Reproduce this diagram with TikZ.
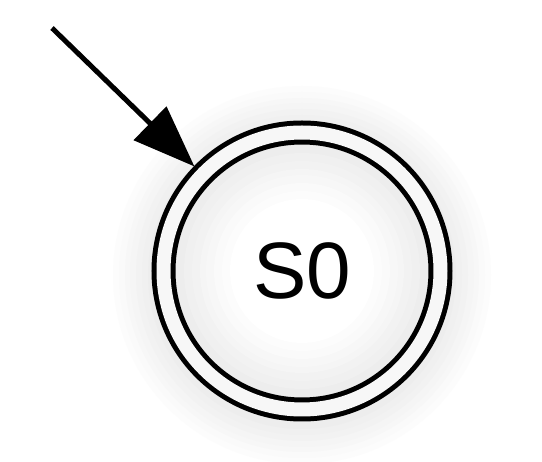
\documentclass[tikz,border=0pt]{standalone}
\usepackage{fontspec}
\setmainfont{Liberation Sans}
\usetikzlibrary{positioning,arrows.meta,backgrounds,calc}

\begin{document}
\begin{tikzpicture}[
  x=1pt, y=-1pt,
  state/.style    = {circle, draw, double=black!3, line width=5pt,
                     double distance=14pt, minimum size=277pt,
                     inner sep=0pt, outer sep=11.5pt,
                     font=\fontsize{80}{96}\selectfont},
  initarrow/.style= {-{Triangle[length=62pt, width=46pt]}, line width=5pt},
]
\useasboundingbox (0,0) rectangle (542,462);

% ===== State =====
\node[state] (s0) at (302,271) {S0};

% ===== Soft shadow round the state, inner shading =====
\begin{scope}[on background layer]
  \foreach \i in {0,...,40}
    \fill[black!\the\numexpr \i*7/40\relax] ($(s0.center)+(0,4)$) circle ({192-\i});
  \foreach \i in {0,...,30}
    \fill[black!\the\numexpr 8-\i*8/30\relax] (s0.center) circle ({130-2*\i});
\end{scope}

% ===== Initial arrow =====
\coordinate (init) at (52,28);
\draw[initarrow] (init) -- (s0);

\end{tikzpicture}
\end{document}
